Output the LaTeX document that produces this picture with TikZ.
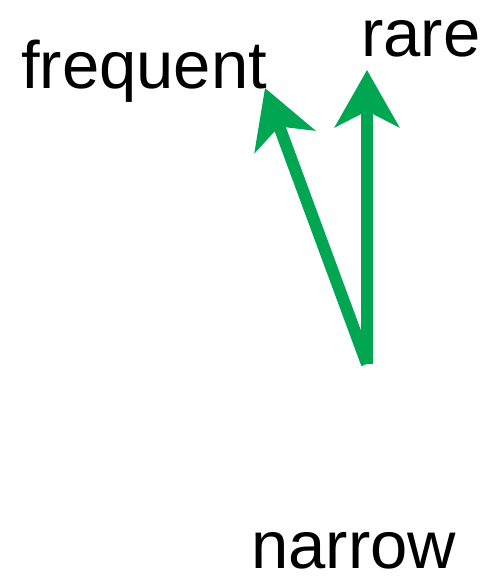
\documentclass[tikz,border=0pt]{standalone}
\usepackage{fontspec}
\setmainfont{Liberation Sans}
\usetikzlibrary{arrows.meta}
\definecolor{arrowgreen}{RGB}{0,166,81}

\begin{document}
\begin{tikzpicture}[x=1pt,y=-1pt]
  \useasboundingbox (0,0) rectangle (485,584);
  \tikzset{lbl/.style={anchor=base west,inner sep=0pt,font=\fontsize{67}{80}\selectfont}}
  \node[lbl] (freq) at (21,88) {frequent};
  \node[lbl] (rare) at (361,56) {rare};
  \node[lbl] (narrow) at (251,568) {narrow};
  \coordinate (origin) at (367,364);
  \coordinate (freqtip) at (265,88);
  \coordinate (raretip) at (367,70);
  \draw[arrowgreen,line width=12pt,-{Stealth[length=57pt,width=64pt,inset=16pt]}] (origin) -- (freqtip);
  \draw[arrowgreen,line width=12pt,-{Stealth[length=57pt,width=64pt,inset=16pt]}] (origin) -- (raretip);
\end{tikzpicture}
\end{document}
